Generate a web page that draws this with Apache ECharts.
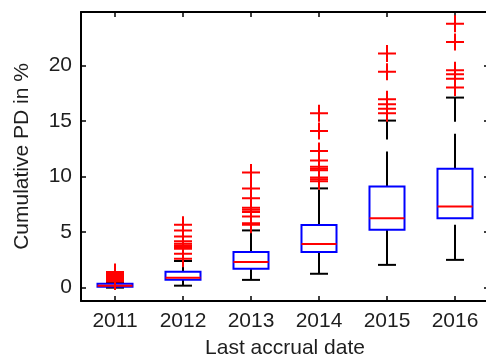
<!DOCTYPE html>
<html><head><meta charset="utf-8">
<script src="https://cdn.jsdelivr.net/npm/echarts@6/dist/echarts.min.js"></script>
<style>html,body{margin:0;padding:0;background:#fff;overflow:hidden;width:486px;height:364px}#c{width:492px;height:364px}</style>
</head><body><div id="c"></div>
<script>
// ---- data ----
const categories = ['2011', '2012', '2013', '2014', '2015', '2016'];
const whiskerLow  = [0.0,  0.18, 0.70, 1.25, 2.05, 2.50];
const q1          = [0.09, 0.71, 1.70, 3.20, 5.20, 6.25];
const median      = [0.18, 0.89, 2.30, 3.93, 6.25, 7.30];
const q3          = [0.36, 1.43, 3.20, 5.63, 9.10, 10.70];
const whiskerHigh = [0.50, 2.40, 5.15, 8.93, 15.03, 17.10];

const outliers2011 = [1.40, 1.30, 1.20, 1.10, 1.00, 0.95, 0.90, 0.85, 0.80, 0.75, 0.70, 0.65, 0.60, 0.55];
const outliers2012 = [5.65, 5.15, 4.60, 4.17, 3.95, 3.80, 3.65, 3.50, 3.06, 2.59];
const outliers2013 = [10.36, 8.93, 8.04, 7.20, 7.00, 6.80, 6.40, 5.80, 5.65];
const outliers2014 = [15.70, 14.10, 12.30, 11.45, 10.87, 10.70, 10.56, 9.90, 9.75, 9.58];
const outliers2015 = [21.07, 19.43, 16.96, 16.50, 16.10, 15.70];
const outliers2016 = [23.75, 22.10, 19.55, 19.20, 18.80, 18.00];
const outliers = [outliers2011, outliers2012, outliers2013, outliers2014, outliers2015, outliers2016];

const yMin = -1.2, yMax = 24.8;

// ---- build series data ----
const boxData = categories.map((c, i) => [i, whiskerLow[i], q1[i], median[i], q3[i], whiskerHigh[i]]);
const outlierData = [];
outliers.forEach((arr, i) => arr.forEach(v => outlierData.push([i, v])));

const FONT = "'Liberation Sans', Arial, Helvetica, sans-serif";
const TXT = '#1e1e1e';

function renderBox(params, api) {
  const i = api.value(0);
  const pLow = api.coord([i, api.value(1)]);
  const pQ1 = api.coord([i, api.value(2)]);
  const pMed = api.coord([i, api.value(3)]);
  const pQ3 = api.coord([i, api.value(4)]);
  const pHigh = api.coord([i, api.value(5)]);
  const band = api.size([1, 0])[0];
  const bw = band * 0.515, cw = band * 0.265;
  const x = pMed[0];
  const wStyle = { stroke: '#000', lineWidth: 2, lineDash: [35, 12], fill: null };
  const sStyle = { stroke: '#000', lineWidth: 2, fill: null };
  return {
    type: 'group',
    children: [
      { type: 'line', shape: { x1: x, y1: pLow[1], x2: x, y2: pQ1[1] }, style: wStyle },
      { type: 'line', shape: { x1: x, y1: pQ3[1], x2: x, y2: pHigh[1] }, style: wStyle },
      { type: 'line', shape: { x1: x - cw / 2, y1: pLow[1], x2: x + cw / 2, y2: pLow[1] }, style: sStyle },
      { type: 'line', shape: { x1: x - cw / 2, y1: pHigh[1], x2: x + cw / 2, y2: pHigh[1] }, style: sStyle },
      { type: 'rect', shape: { x: x - bw / 2, y: pQ3[1], width: bw, height: pQ1[1] - pQ3[1] },
        style: { stroke: '#0000ff', lineWidth: 2, fill: null } },
      { type: 'line', shape: { x1: x - bw / 2, y1: pMed[1], x2: x + bw / 2, y2: pMed[1] },
        style: { stroke: '#ff0000', lineWidth: 2, fill: null } }
    ]
  };
}

const axisLineStyle = { color: '#000', width: 2 };
const tickStyle = { color: '#000', width: 1.5 };

const chart = echarts.init(document.getElementById('c'), null, { renderer: 'canvas' });
chart.setOption({
  animation: false,
  backgroundColor: '#fff',
  grid: { left: 81, top: 12, right: 3, bottom: 61, containLabel: false },
  xAxis: [
    {
      type: 'category', data: categories, position: 'bottom', boundaryGap: true,
      axisLine: { show: true, onZero: false, lineStyle: axisLineStyle },
      axisTick: { show: true, inside: true, alignWithLabel: true, length: 5, lineStyle: tickStyle },
      axisLabel: { fontSize: 21, fontFamily: FONT, color: TXT, margin: 10 },
      splitLine: { show: false },
      name: 'Last accrual date', nameLocation: 'middle', nameGap: 37,
      nameTextStyle: { fontSize: 21, fontFamily: FONT, color: TXT }
    },
    {
      type: 'category', data: categories, position: 'top', boundaryGap: true,
      axisLine: { show: true, onZero: false, lineStyle: axisLineStyle },
      axisTick: { show: true, inside: true, alignWithLabel: true, length: 5, lineStyle: tickStyle },
      axisLabel: { show: false }, splitLine: { show: false }
    }
  ],
  yAxis: [
    {
      type: 'value', min: yMin, max: yMax, splitNumber: 5, position: 'left',
      axisLine: { show: true, onZero: false, lineStyle: axisLineStyle },
      axisTick: { show: true, inside: true, length: 5, lineStyle: tickStyle },
      axisLabel: {
        fontSize: 21, fontFamily: FONT, color: TXT, margin: 9,
        showMinLabel: false, showMaxLabel: false,
        formatter: v => (Math.abs(v / 5 - Math.round(v / 5)) < 1e-6 ? String(Math.round(v)) : '')
      },
      splitLine: { show: false },
      name: 'Cumulative PD in %', nameLocation: 'middle', nameGap: 48,
      nameTextStyle: { fontSize: 21, fontFamily: FONT, color: TXT }
    },
    {
      type: 'value', min: yMin, max: yMax, splitNumber: 5, position: 'right',
      axisLine: { show: true, onZero: false, lineStyle: axisLineStyle },
      axisTick: { show: true, inside: true, length: 5, lineStyle: tickStyle },
      axisLabel: { show: false }, splitLine: { show: false }
    }
  ],
  series: [
    {
      type: 'custom', xAxisIndex: 0, yAxisIndex: 0, data: boxData,
      encode: { x: 0, y: [1, 2, 3, 4, 5] }, renderItem: renderBox, silent: true, clip: false
    },
    {
      type: 'scatter', xAxisIndex: 0, yAxisIndex: 0, data: outlierData, silent: true,
      symbol: 'path://M0,7.5H18V9.5H0Z M8,0H10V17H8Z', symbolSize: [18, 17],
      itemStyle: { color: '#ff0000', opacity: 1 }
    }
  ]
});
</script>
</body></html>
